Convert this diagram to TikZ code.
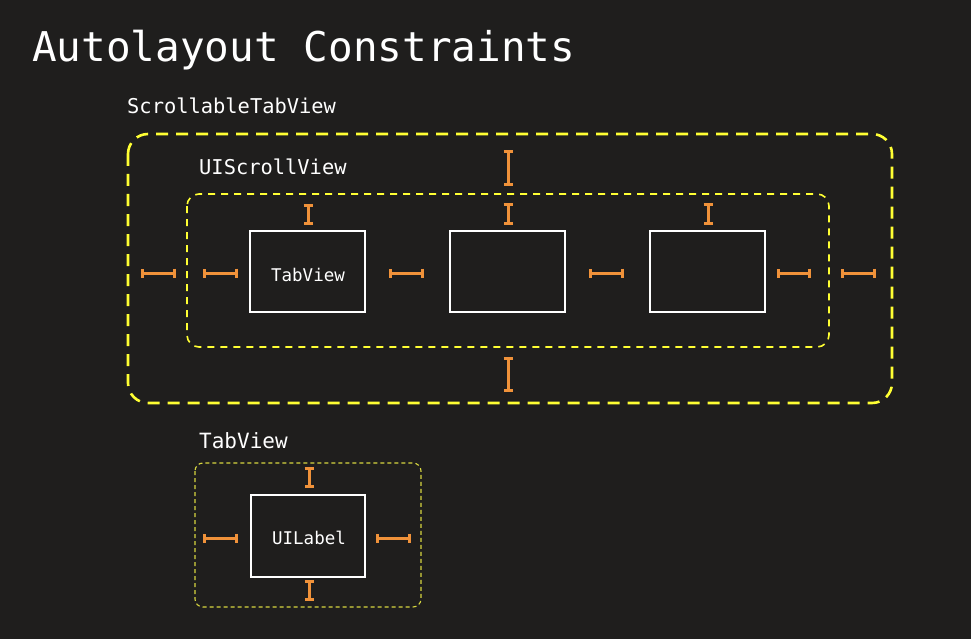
\documentclass[tikz,border=0pt]{standalone}
\usepackage{fontspec}
\setmainfont{DejaVu Sans Mono}
\usetikzlibrary{arrows.meta}
\definecolor{bg}{HTML}{1F1E1D}
\definecolor{ylw}{HTML}{FFFF33}
\definecolor{dimylw}{HTML}{D6D640}
\definecolor{org}{HTML}{F0923A}
\tikzset{
  txt/.style={inner sep=0pt, anchor=base west, text=white},
  outerbox/.style={draw=ylw, line width=2.6pt, dash pattern=on 12pt off 8pt, rounded corners=20pt},
  innerbox/.style={draw=ylw, line width=1.6pt, dash pattern=on 7pt off 6pt, rounded corners=12pt},
  smallbox/.style={draw=dimylw, line width=1.1pt, dash pattern=on 4pt off 3pt, rounded corners=8pt},
  viewbox/.style={draw=white, line width=2pt, text=white, inner sep=0pt, font=\fontsize{17.5}{20}\selectfont},
  ibeam/.style={draw=org, line width=3pt, {Bar[width=9pt,line width=3pt]}-{Bar[width=9pt,line width=3pt]}}
}
\begin{document}
\begin{tikzpicture}[x=1pt,y=-1pt]
\fill[bg] (0,0) rectangle (971,639);
\useasboundingbox (0,0) rectangle (971,639);

\node[txt, font=\fontsize{41}{48}\selectfont] (title) at (32,62) {Autolayout Constraints};
\node[txt, font=\fontsize{20.4}{24}\selectfont] (lblstv) at (127,114) {ScrollableTabView};
\node[txt, font=\fontsize{20.4}{24}\selectfont] (lblsv) at (199,175) {UIScrollView};
\node[txt, font=\fontsize{21}{24}\selectfont] (lbltv) at (199,448) {TabView};

% boxes
\draw[outerbox] (128,134) rectangle (892,403);
\draw[innerbox] (187,194) rectangle (829,347);
\draw[smallbox] (195,463) rectangle (421,607);

\node[viewbox, minimum width=115pt, minimum height=81pt] (tab1) at (307.5,271.5) {};
\node[viewbox, minimum width=115pt, minimum height=81pt] (tab2) at (507.5,271.5) {};
\node[viewbox, minimum width=115pt, minimum height=81pt] (tab3) at (707.5,271.5) {};
\node[viewbox, minimum width=114pt, minimum height=82pt] (uilabel) at (308,536) {};
\node[viewbox, draw=none, anchor=base] (tab1lbl) at (308,281) {TabView};
\node[viewbox, draw=none, anchor=base] (uilabellbl) at (309,544) {UILabel};

% constraint markers
\coordinate (a1) at (508,150); \coordinate (a2) at (508,186);
\coordinate (b1) at (508,357); \coordinate (b2) at (508,392);
\coordinate (c1) at (308,204); \coordinate (c2) at (308,225);
\coordinate (d1) at (508,203); \coordinate (d2) at (508,225);
\coordinate (e1) at (708,203); \coordinate (e2) at (708,225);
\coordinate (f1) at (141,273); \coordinate (f2) at (176,273);
\coordinate (g1) at (203,273); \coordinate (g2) at (238,273);
\coordinate (h1) at (389,273); \coordinate (h2) at (424,273);
\coordinate (i1) at (589,273); \coordinate (i2) at (624,273);
\coordinate (j1) at (777,273); \coordinate (j2) at (811,273);
\coordinate (k1) at (841,273); \coordinate (k2) at (876,273);
\coordinate (l1) at (309,467); \coordinate (l2) at (309,488);
\coordinate (m1) at (309,580); \coordinate (m2) at (309,601);
\coordinate (n1) at (203,538); \coordinate (n2) at (238,538);
\coordinate (o1) at (376,538); \coordinate (o2) at (411,538);
\foreach \p in {a,b,c,d,e,f,g,h,i,j,k,l,m,n,o}
  \draw[ibeam] (\p1) -- (\p2);
\end{tikzpicture}
\end{document}
